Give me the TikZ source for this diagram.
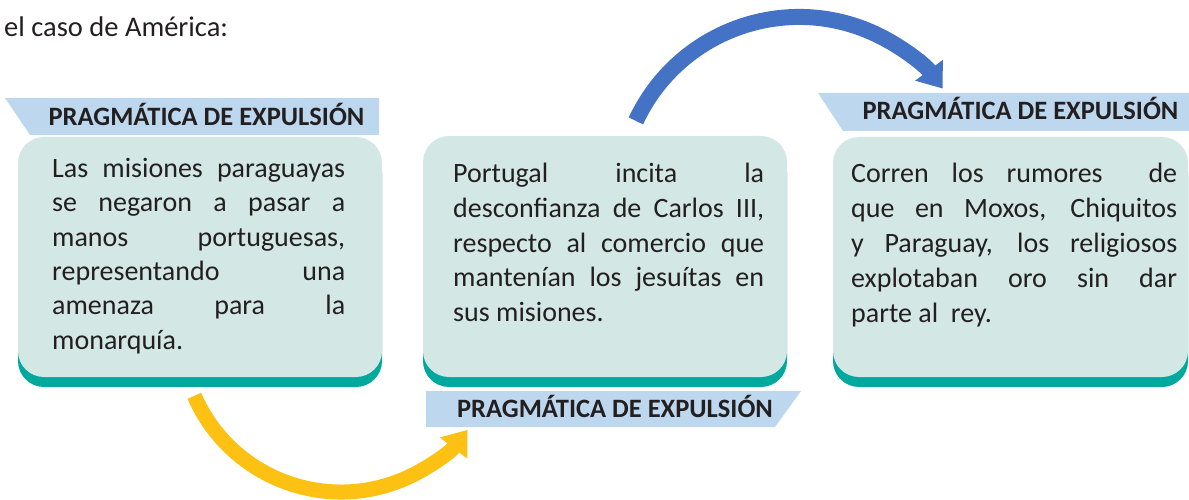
\documentclass[tikz,border=0pt]{standalone}
\usepackage{fontspec}
\setmainfont{Carlito}
\usetikzlibrary{arrows.meta}
\definecolor{boxfill}{RGB}{211,232,229}
\definecolor{boxshade}{RGB}{0,168,157}
\definecolor{bannerfill}{RGB}{189,215,238}
\definecolor{txt}{RGB}{35,31,32}
\definecolor{arrowblue}{RGB}{68,114,196}
\definecolor{arrowyellow}{RGB}{253,193,19}
\newcommand{\jl}[2]{\makebox[#1][s]{#2}\\}
\tikzset{
  card/.style={fill=boxfill, draw=none, rounded corners=26pt},
  cardshade/.style={fill=boxshade, draw=none, rounded corners=26pt},
  banner/.style={fill=bannerfill, draw=none},
  bannertext/.style={anchor=base, inner sep=0pt, text=txt, font=\fontsize{26.5}{30}\selectfont\bfseries},
  cardtext/.style={anchor=base west, inner sep=0pt, text=txt, align=left, font=\fontsize{28}{#1}\selectfont},
  bigarrow/.style={line width=#1, -{Triangle[length=23pt,width=33pt]}},
}
\begin{document}
\begin{tikzpicture}[x=1pt,y=1pt]
\useasboundingbox (0,0) rectangle (1189,-500);
% title
\node[anchor=base west, inner sep=0pt, text=txt, font=\fontsize{28.5}{34}\selectfont] (title) at (4,-37) {el caso de América:};

% card 1
\fill[cardshade] (18,-147) rectangle (382,-387);
\fill[card] (18,-137) rectangle (382,-377);
\fill[banner] (5,-98) -- (379,-98) -- (379,-135) -- (30,-135) -- cycle;
\node[bannertext] (b1) at (206.5,-125.5) {PRAGMÁTICA DE EXPULSIÓN};
% base anchor = baseline of last line
\node[cardtext=34.4] (t1) at (52,-349.3) {%
\jl{293pt}{Las misiones paraguayas}
\jl{293pt}{se negaron a pasar a}
\jl{293pt}{manos portuguesas,}
\jl{293pt}{representando una}
\jl{293pt}{amenaza para la}
monarquía.};

% card 2
\fill[cardshade] (423,-146) rectangle (787,-387);
\fill[card] (423,-136) rectangle (787,-377);
\node[cardtext=34.85] (t2) at (453,-321.7) {%
\jl{311pt}{Portugal incita la}
\jl{311pt}{desconfianza de Carlos III,}
\jl{311pt}{respecto al comercio que}
\jl{311pt}{mantenían los jesuítas en}
sus misiones.};
\fill[banner] (426,-391) -- (801,-391) -- (775,-427) -- (426,-427) -- cycle;
\node[bannertext] (b2) at (615,-417) {PRAGMÁTICA DE EXPULSIÓN};

% card 3
\fill[cardshade] (833,-147) rectangle (1188,-387);
\fill[card] (833,-137) rectangle (1188,-377);
\fill[banner] (818,-93) -- (1189,-93) -- (1189,-131) -- (843,-131) -- cycle;
\node[bannertext] (b3) at (1020.5,-120) {PRAGMÁTICA DE EXPULSIÓN};
\node[cardtext=35] (t3) at (851,-322) {%
\jl{326pt}{Corren los rumores \ de}
\jl{326pt}{que en Moxos, Chiquitos}
\jl{326pt}{y Paraguay, los religiosos}
\jl{326pt}{explotaban oro sin dar}
parte al \ rey.};

% arrows
\coordinate (ys) at (194.3,-395.8);
\draw[arrowyellow, bigarrow=15pt] (ys) arc[start angle=203.5, end angle=322.3, radius=160];
\coordinate (bs) at (635.9,-120.9);
\draw[arrowblue, bigarrow=16pt] (bs) arc[start angle=155, end angle=37, radius=180];
\end{tikzpicture}
\end{document}
